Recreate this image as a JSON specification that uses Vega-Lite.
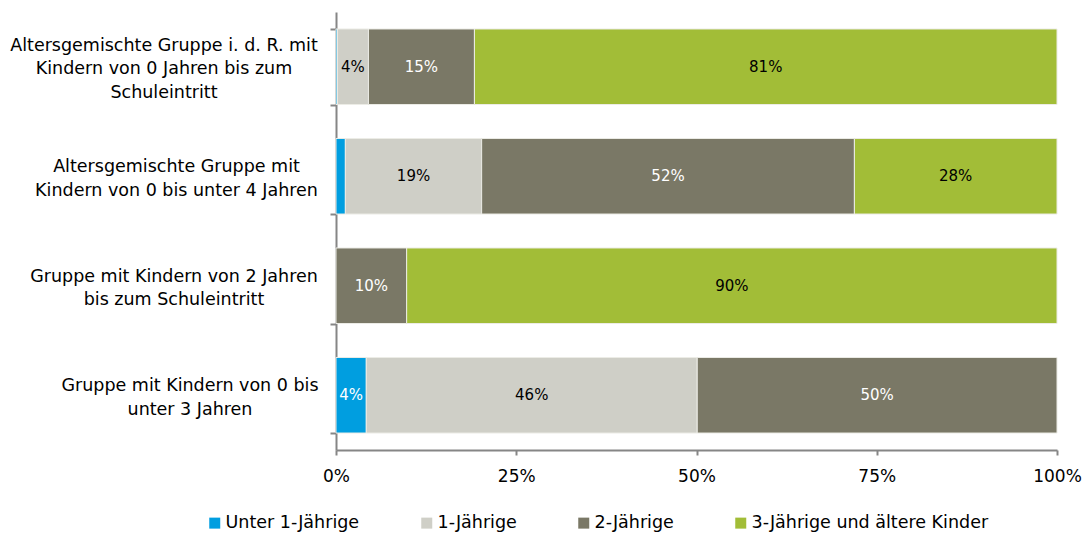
{
  "$schema": "https://vega.github.io/schema/vega-lite/v6.json",
  "width": 721,
  "height": 438,
  "autosize": {"type": "none"},
  "padding": {"left": 336, "top": 12, "right": 32, "bottom": 83},
  "background": "white",
  "config": {"view": {"stroke": null}, "font": "DejaVu Sans"},
  "data": {
    "values": [
      {"group": "Altersgemischte Gruppe i. d. R.  mit|Kindern von 0 Jahren bis zum|Schuleintritt", "cat": "Unter 1-Jährige", "value": 0.002},
      {"group": "Altersgemischte Gruppe i. d. R.  mit|Kindern von 0 Jahren bis zum|Schuleintritt", "cat": "1-Jährige", "value": 0.043},
      {"group": "Altersgemischte Gruppe i. d. R.  mit|Kindern von 0 Jahren bis zum|Schuleintritt", "cat": "2-Jährige", "value": 0.147},
      {"group": "Altersgemischte Gruppe i. d. R.  mit|Kindern von 0 Jahren bis zum|Schuleintritt", "cat": "3-Jährige und ältere Kinder", "value": 0.808},
      {"group": "Altersgemischte Gruppe mit|Kindern von 0 bis unter 4 Jahren", "cat": "Unter 1-Jährige", "value": 0.013},
      {"group": "Altersgemischte Gruppe mit|Kindern von 0 bis unter 4 Jahren", "cat": "1-Jährige", "value": 0.189},
      {"group": "Altersgemischte Gruppe mit|Kindern von 0 bis unter 4 Jahren", "cat": "2-Jährige", "value": 0.517},
      {"group": "Altersgemischte Gruppe mit|Kindern von 0 bis unter 4 Jahren", "cat": "3-Jährige und ältere Kinder", "value": 0.281},
      {"group": "Gruppe mit Kindern von 2 Jahren|bis zum Schuleintritt", "cat": "2-Jährige", "value": 0.098},
      {"group": "Gruppe mit Kindern von 2 Jahren|bis zum Schuleintritt", "cat": "3-Jährige und ältere Kinder", "value": 0.902},
      {"group": "Gruppe mit Kindern von 0 bis|unter 3 Jahren", "cat": "Unter 1-Jährige", "value": 0.042},
      {"group": "Gruppe mit Kindern von 0 bis|unter 3 Jahren", "cat": "1-Jährige", "value": 0.459},
      {"group": "Gruppe mit Kindern von 0 bis|unter 3 Jahren", "cat": "2-Jährige", "value": 0.499}
    ]
  },
  "transform": [
    {"calculate": "indexof(['Unter 1-Jährige','1-Jährige','2-Jährige','3-Jährige und ältere Kinder'], datum.cat)", "as": "o"},
    {"stack": "value", "groupby": ["group"], "sort": [{"field": "o", "order": "ascending"}], "as": ["x0", "x1"]},
    {"calculate": "(datum.x0 + datum.x1) / 2", "as": "xm"}
  ],
  "encoding": {
    "y": {
      "field": "group",
      "type": "nominal",
      "sort": [
        "Altersgemischte Gruppe i. d. R.  mit|Kindern von 0 Jahren bis zum|Schuleintritt",
        "Altersgemischte Gruppe mit|Kindern von 0 bis unter 4 Jahren",
        "Gruppe mit Kindern von 2 Jahren|bis zum Schuleintritt",
        "Gruppe mit Kindern von 0 bis|unter 3 Jahren"
      ],
      "scale": {"paddingInner": 0.31, "paddingOuter": 0.155},
      "axis": {
        "title": null,
        "labelExpr": "split(datum.label, '|')",
        "labelAlign": "center",
        "labelBaseline": "middle",
        "labelPadding": {
          "condition": [
            {"test": "isString(datum && datum.value) && indexof(datum.value, 'R.') >= 0", "value": 166.5},
            {"test": "isString(datum && datum.value) && indexof(datum.value, 'unter 4') >= 0", "value": 154},
            {"test": "isString(datum && datum.value) && indexof(datum.value, '2 Jahren') >= 0", "value": 156.5}
          ],
          "value": 140.5
        },
        "labelOffset": {
          "condition": {"test": "isString(datum && datum.value) && indexof(datum.value, 'R.') >= 0", "value": -21.5},
          "value": -9.75
        },
        "labelFontSize": 17.5,
        "labelColor": "#000000",
        "labelLineHeight": 23.5,
        "labelLimit": 0,
        "tickBand": "extent",
        "tickSize": 6,
        "tickColor": "#868686",
        "tickWidth": 2,
        "domainColor": "#868686",
        "domainWidth": 2
      }
    }
  },
  "layer": [
    {
      "mark": {"type": "bar", "stroke": "#ecece6", "strokeWidth": 1},
      "encoding": {
        "x": {
          "field": "x0",
          "type": "quantitative",
          "scale": {"domain": [0, 1], "nice": false},
          "axis": {
            "title": null,
            "values": [0, 0.25, 0.5, 0.75, 1],
            "format": ".0%",
            "labelFontSize": 17,
            "labelColor": "#000000",
            "labelFlush": false,
            "tickSize": 5,
            "tickColor": "#868686",
            "tickWidth": 2,
            "domainColor": "#868686",
            "domainWidth": 2,
            "labelPadding": 13,
            "grid": false
          }
        },
        "x2": {"field": "x1"},
        "color": {
          "field": "cat",
          "type": "nominal",
          "scale": {
            "domain": ["Unter 1-Jährige", "1-Jährige", "2-Jährige", "3-Jährige und ältere Kinder"],
            "range": ["#009ee0", "#cfcfc7", "#7a7866", "#a2bd37"]
          },
          "legend": {
            "title": null,
            "orient": "none",
            "legendX": -130,
            "legendY": 502,
            "direction": "horizontal",
            "symbolType": "square",
            "symbolSize": 121,
            "symbolStrokeWidth": 0,
            "symbolOpacity": 1,
            "labelFontSize": 17.5,
            "labelColor": "#000000",
            "labelOffset": 2,
            "columnPadding": 58,
            "labelLimit": 0
          }
        }
      }
    },
    {
      "transform": [{"filter": "datum.value >= 0.02"}],
      "mark": {"type": "text", "fontSize": 15, "baseline": "middle", "align": "center"},
      "encoding": {
        "x": {"field": "xm", "type": "quantitative"},
        "text": {"field": "value", "type": "quantitative", "format": ".0%"},
        "color": {
          "condition": {"test": "datum.cat == '2-Jährige' || datum.cat == 'Unter 1-Jährige'", "value": "#ffffff"},
          "value": "#000000"
        }
      }
    }
  ]
}
